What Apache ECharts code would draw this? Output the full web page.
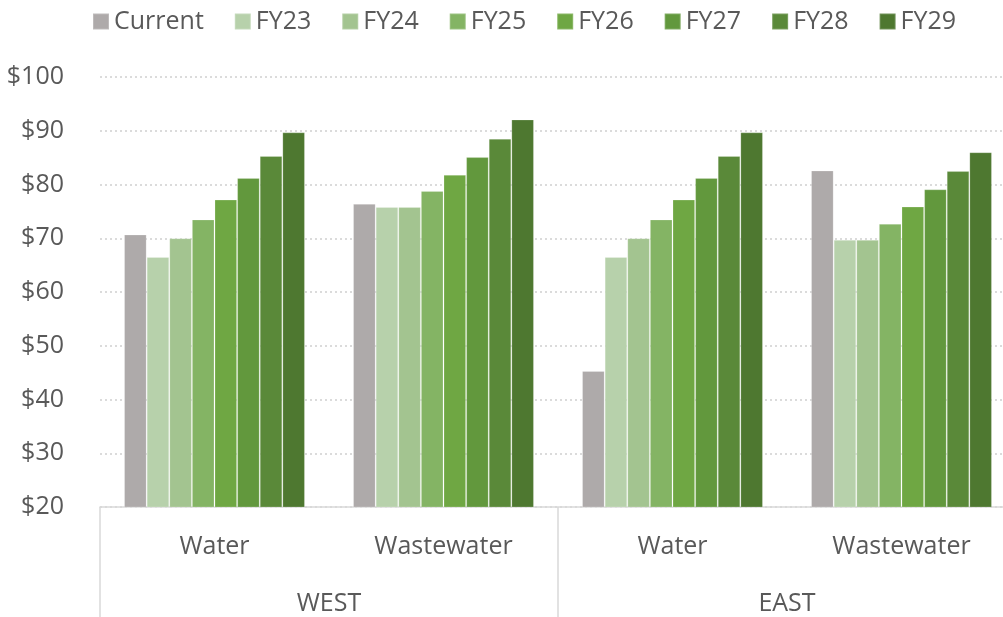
<!DOCTYPE html>
<html>
<head>
<meta charset="utf-8">
<script src="https://cdn.jsdelivr.net/npm/echarts@6/dist/echarts.min.js"></script>
<style>html,body{margin:0;padding:0;background:#fff;}#c{width:1003px;height:617px;}</style>
</head>
<body>
<div id="c"></div>
<script>
const categories = ['Water', 'Wastewater', 'Water', 'Wastewater'];
const regions = ['WEST', 'EAST'];
const seriesNames = ['Current', 'FY23', 'FY24', 'FY25', 'FY26', 'FY27', 'FY28', 'FY29'];
const yTicks = [20, 30, 40, 50, 60, 70, 80, 90, 100];

const current = [70.7, 76.4, 45.3, 82.6];
const fy23 = [66.5, 75.8, 66.5, 69.7];
const fy24 = [70.0, 75.8, 70.0, 69.7];
const fy25 = [73.5, 78.8, 73.5, 72.7];
const fy26 = [77.2, 81.8, 77.2, 75.9];
const fy27 = [81.2, 85.1, 81.2, 79.1];
const fy28 = [85.3, 88.5, 85.3, 82.5];
const fy29 = [89.7, 92.1, 89.7, 86.0];

const seriesValues = [current, fy23, fy24, fy25, fy26, fy27, fy28, fy29];
const colors = ['#AEAAAA', '#B7D1AB', '#A3C490', '#84B464', '#6FA743', '#62983D', '#5A8939', '#4E7830'];

const font = '"Open Sans", "Liberation Sans", sans-serif';
const txt = '#595959';

const chart = echarts.init(document.getElementById('c'), null, {renderer: 'canvas'});
chart.setOption({
  animation: false,
  color: colors,
  textStyle: {fontFamily: font},
  legend: {
    left: 92, top: 9, padding: 0,
    itemWidth: 16, itemHeight: 16, itemGap: 30,
    icon: 'rect',
    textStyle: {fontFamily: font, fontSize: 25, color: txt},
    data: seriesNames
  },
  grid: {left: 100, top: 77, width: 916, bottom: 110, containLabel: false, outerBoundsMode: 'none'},
  xAxis: [{
    type: 'category',
    data: categories,
    axisLine: {show: true, lineStyle: {color: '#D9D9D9', width: 1.5}},
    axisTick: {show: true, length: 110, interval: function (i) { return i % 2 === 0; }, lineStyle: {color: '#D9D9D9', width: 1.5}},
    axisLabel: {margin: 27, fontFamily: font, fontSize: 25, color: txt, interval: 0}
  }, {
    type: 'category',
    data: regions,
    position: 'bottom',
    axisLine: {show: false},
    axisTick: {show: false},
    axisLabel: {margin: 84, fontFamily: font, fontSize: 25, color: txt, interval: 0}
  }],
  yAxis: {
    type: 'value', min: yTicks[0], max: yTicks[yTicks.length - 1], interval: 10,
    axisLine: {show: false}, axisTick: {show: false},
    axisLabel: {margin: 36, fontFamily: font, fontSize: 25, color: txt, formatter: v => '$' + v},
    splitLine: {show: true, lineStyle: {color: '#D0D0D0', type: [2, 3], width: 1.5}}
  },
  series: seriesNames.map((name, i) => ({
    name: name,
    type: 'bar',
    xAxisIndex: 0,
    data: seriesValues[i],
    barGap: '0%',
    barCategoryGap: '21%',
    itemStyle: {color: colors[i], borderColor: 'rgba(255,255,255,0.2)', borderWidth: 1}
  }))
});
</script>
</body>
</html>
